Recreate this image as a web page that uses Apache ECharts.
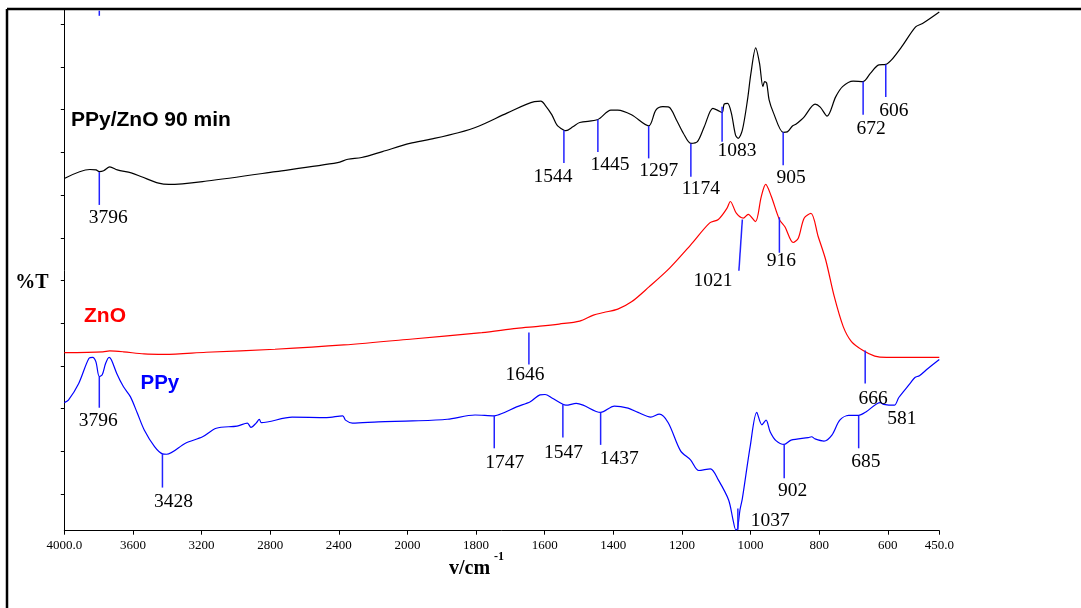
<!DOCTYPE html>
<html><head><meta charset="utf-8">
<script src="https://cdn.jsdelivr.net/npm/echarts@6/dist/echarts.min.js"></script>
<style>html,body{margin:0;padding:0;background:#fff}#c{width:1081px;height:608px}</style>
</head><body><div id="c"></div>
<script>
// ---------- DATA ----------
const xTicks = [4000,3600,3200,2800,2400,2000,1800,1600,1400,1200,1000,800,600,450];
const xTickLabels = ['4000.0','3600','3200','2800','2400','2000','1800','1600','1400','1200','1000','800','600','450.0'];
const yTicks = [8.6,18.6,28.6,38.6,48.6,58.6,68.6,78.6,88.6,98.6,108.6,118.6];

const ppyZnO = [[4000,82.5],[3851,84.6],[3815,84.5],[3796,84.1],[3771,84.3],[3735,85.2],[3691,84.5],[3610,83.8],[3550,82.9],[3450,81.4],[3390,81.1],[3169,81.9],[2768,84.1],[2407,86.2],[2347,87.0],[2267,87.4],[2146,88.8],[1993,90.7],[1932,91.7],[1852,93.2],[1791,94.8],[1710,97.8],[1630,100.5],[1611,100.6],[1599,99.7],[1579,97.4],[1564,95.0],[1544,93.8],[1538,93.7],[1518,94.6],[1498,95.6],[1445,96.3],[1407,98.5],[1387,98.5],[1347,97.4],[1297,94.8],[1276,98.5],[1256,99.3],[1238,99.2],[1216,96.2],[1196,93.1],[1174,90.7],[1155,91.1],[1135,94.6],[1110,98.9],[1097,98.5],[1083,97.9],[1077,99.9],[1067,100.1],[1056,97.8],[1044,92.7],[1036,91.9],[1024,93.8],[1009,100.9],[999,107.1],[985,113.1],[974,109.5],[964,104.0],[959,105.2],[953,104.8],[946,100.9],[933,97.8],[905,93.3],[893,93.4],[878,94.8],[868,95.2],[853,96.2],[843,97.0],[812,99.9],[797,99.2],[777,97.1],[752,101.6],[732,104.0],[701,105.3],[672,105.2],[651,107.1],[626,109.1],[606,109.2],[590,110.2],[560,113.3],[519,118.0],[499,118.8],[450,121.5]];

const zno = [[4000,41.7],[3775,41.9],[3735,42.1],[3655,41.9],[3535,41.4],[3415,41.3],[3173,41.8],[2772,42.5],[2371,43.5],[1985,44.9],[1783,46.4],[1682,47.4],[1614,47.9],[1558,48.4],[1498,49.1],[1458,50.5],[1428,51.1],[1387,51.9],[1347,53.6],[1296,57.1],[1236,61.5],[1175,66.9],[1119,72.1],[1094,72.9],[1069,75.5],[1059,77.1],[1041,74.3],[1021,73.2],[1007,74.1],[986,72.4],[969,78.2],[956,81.1],[940,78.4],[916,72.9],[900,71.2],[876,67.5],[861,68.5],[844,73.2],[824,74.3],[803,68.9],[781,63.4],[756,54.8],[730,47.8],[706,44.3],[672,42.2],[638,40.9],[604,40.6],[531,40.6],[450,40.6]];

const ppy = [[4000,30.0],[3976,30.6],[3916,34.5],[3856,40.4],[3835,40.6],[3816,39.6],[3796,36.1],[3779,36.5],[3759,39.2],[3739,40.6],[3725,40.0],[3695,36.9],[3655,33.7],[3615,31.4],[3574,27.5],[3534,23.6],[3474,19.7],[3428,18.0],[3404,17.9],[3294,20.5],[3194,22.0],[3114,24.0],[2993,24.5],[2933,25.2],[2912,24.2],[2882,25.2],[2863,26.1],[2852,25.3],[2672,26.6],[2471,26.5],[2377,26.9],[2361,25.9],[2321,25.2],[2170,25.5],[1985,25.7],[1884,26.1],[1803,27.1],[1747,26.9],[1723,27.5],[1682,29.0],[1642,30.2],[1614,31.8],[1599,31.9],[1579,31.1],[1547,29.6],[1538,29.4],[1508,29.8],[1488,29.4],[1437,27.7],[1397,29.2],[1357,28.7],[1328,27.7],[1291,26.6],[1266,27.3],[1240,25.3],[1204,18.7],[1175,16.6],[1151,14.1],[1117,14.5],[1094,11.9],[1064,7.2],[1051,2.5],[1043,0.2],[1038,0.5],[1031,4.8],[1024,7.5],[1001,19.8],[982,27.7],[967,24.8],[955,25.9],[943,23.2],[926,21.1],[902,20.2],[882,21.2],[832,21.8],[822,22.0],[812,21.5],[786,21.0],[763,22.4],[740,25.9],[714,27.0],[685,27.0],[664,27.8],[622,30.0],[612,29.6],[581,29.4],[568,31.2],[535,34.5],[521,35.9],[508,36.3],[483,38.0],[450,40.1]];

// peak markers: [label, wavenumber at curve, %T at curve, wavenumber at end, %T at end]
const blackPeaks = [['3796',3796,84.0,3796,76.3],['1544',1544,93.8,1544,86.1],['1445',1445,96.3,1445,88.7],['1297',1297,94.8,1297,87.2],['1174',1174,90.7,1174,82.9],['1083',1083,99.3,1083,91.1],['905',905,93.3,905,85.6],['672',672,105.2,672,97.4],['606',606,109.2,606,101.6],['',3796,121.8,3796,120.6]];
const redPeaks = [['1646',1646,46.4,1646,38.9],['1021',1024,72.9,1034,60.9],['916',916,73.4,916,65.1],['666',666,42.2,666,34.5]];
const bluePeaks = [['3796',3796,36.1,3796,28.8],['3428',3428,18.0,3428,10.1],['1747',1747,26.9,1747,19.3],['1547',1547,29.6,1547,21.8],['1437',1437,27.7,1437,20.1],['1037',1037,5.2,1037,0.2],['902',902,20.3,902,12.3],['685',685,26.9,685,19.3],['581',581,29.4,581,29.4]];

// ---------- LAYOUT / STYLE ----------
const blackOff = [[9,13],[-11,14],[12,12.7],[10,12.7],[10,12.5],[15,9.5],[8,12.5],[8,14],[8,13.8],[0,0]];
const redOff = [[-4,10],[-26,10],[2,8.5],[8,15]];
const blueOff = [[-1,13],[11,13.8],[10.5,14.2],[0.5,15.6],[18.7,13.7],[32.4,-9],[8.5,12.2],[7.2,13.4],[7.6,14.2]];

// wavenumber axis is expanded 2x below 2000 cm-1
function toU(w){ return w > 2000 ? 2000 + (w - 2000) / 2 : w; }
const conv = arr => arr.map(p => [toU(p[0]), p[1]]);
const uTicks = xTicks.map(toU);

const allPeaks = [];
[[blackPeaks, blackOff], [redPeaks, redOff], [bluePeaks, blueOff]].forEach(([pk, off]) => {
  pk.forEach((p, i) => allPeaks.push({label: p[0], a: [toU(p[1]), p[2]], b: [toU(p[3]), p[4]], off: off[i]}));
});

const chart = echarts.init(document.getElementById('c'), null, {renderer: 'canvas'});
const serif = '"Liberation Serif","Times New Roman",serif';
const sans = '"Liberation Sans",Arial,sans-serif';

chart.setOption({
  animation: false,
  backgroundColor: '#fff',
  grid: {left: 64.3, right: 141.7, top: 9.8, bottom: 77.3, containLabel: false},
  xAxis: {
    type: 'value', inverse: true, min: 450, max: 3000,
    axisLine: {show: true, lineStyle: {color: '#000', width: 1}},
    axisTick: {show: true, customValues: uTicks, length: 4, inside: false, lineStyle: {color: '#000'}},
    axisLabel: {
      customValues: uTicks, margin: 8, color: '#000', fontFamily: serif, fontSize: 13,
      formatter: v => { const i = uTicks.findIndex(t => Math.abs(t - v) < 0.01); return i >= 0 ? xTickLabels[i] : ''; }
    },
    splitLine: {show: false}
  },
  yAxis: {
    type: 'value', min: 0, max: 122,
    axisLine: {show: true, lineStyle: {color: '#000', width: 1}},
    axisTick: {show: true, customValues: yTicks, length: 3.5, inside: false, lineStyle: {color: '#000'}},
    axisLabel: {show: false},
    splitLine: {show: false}
  },
  series: [
    {type: 'line', data: conv(ppyZnO), showSymbol: false, smooth: 0.3, lineStyle: {color: '#000', width: 1.2}, z: 3},
    {type: 'line', data: conv(zno), showSymbol: false, smooth: 0.3, lineStyle: {color: '#ff0000', width: 1.2}, z: 3},
    {type: 'line', data: conv(ppy), showSymbol: false, smooth: 0.3, lineStyle: {color: '#0000ff', width: 1.2}, z: 3},
    {
      type: 'custom', z: 4,
      data: allPeaks.map(p => [p.a[0], p.a[1], p.b[0], p.b[1]]),
      encode: {x: [0, 2], y: [1, 3]},
      renderItem: (params, api) => {
        const p = allPeaks[params.dataIndex];
        const a = api.coord(p.a), b = api.coord(p.b);
        return {type: 'group', children: [
          {type: 'line', shape: {x1: a[0], y1: a[1], x2: b[0], y2: b[1]}, style: {stroke: '#2222ff', lineWidth: 1.5}},
          {type: 'text', x: b[0] + p.off[0], y: b[1] + p.off[1],
           style: {text: p.label, fill: '#000', font: '19.5px ' + serif, align: 'center', verticalAlign: 'middle'}}
        ]};
      }
    }
  ],
  graphic: [
    {type: 'line', shape: {x1: 7, y1: 9, x2: 1081, y2: 9}, style: {stroke: '#000', lineWidth: 2.5}},
    {type: 'line', shape: {x1: 7, y1: 9, x2: 7, y2: 608}, style: {stroke: '#000', lineWidth: 2.5}},
    {type: 'text', x: 32, y: 283, style: {text: '%T', fill: '#000', font: 'bold 20px ' + serif, align: 'center', verticalAlign: 'middle'}},
    {type: 'text', x: 71, y: 120.5, style: {text: 'PPy/ZnO 90 min', fill: '#000', font: 'bold 21px ' + sans, align: 'left', verticalAlign: 'middle'}},
    {type: 'text', x: 84, y: 316, style: {text: 'ZnO', fill: '#ff0000', font: 'bold 21px ' + sans, align: 'left', verticalAlign: 'middle'}},
    {type: 'text', x: 140.5, y: 383.5, style: {text: 'PPy', fill: '#0000ff', font: 'bold 20.5px ' + sans, align: 'left', verticalAlign: 'middle'}},
    {type: 'text', x: 449, y: 569, style: {text: 'v/cm', fill: '#000', font: 'bold 20px ' + serif, align: 'left', verticalAlign: 'middle'}},
    {type: 'text', x: 494, y: 557, style: {text: '-1', fill: '#000', font: 'bold 12px ' + serif, align: 'left', verticalAlign: 'middle'}}
  ]
});
</script></body></html>
